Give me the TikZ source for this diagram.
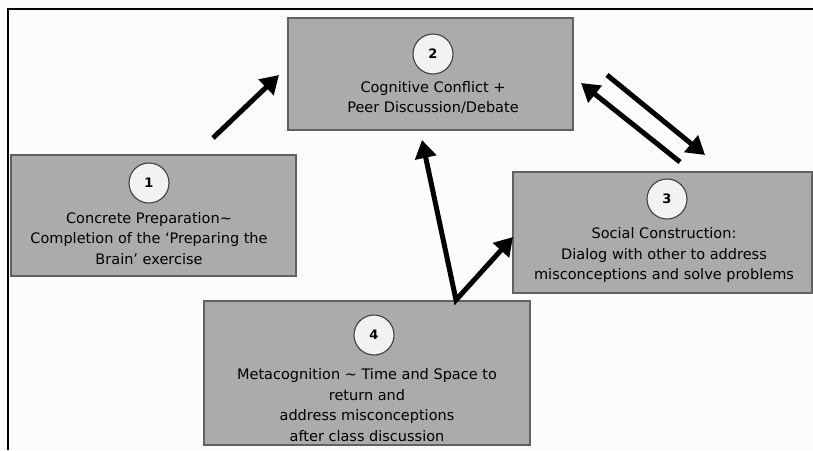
\documentclass[tikz,border=0pt]{standalone}
\usepackage{fontspec}
\setmainfont{DejaVu Sans}
\usetikzlibrary{arrows.meta}
\begin{document}
\begin{tikzpicture}[x=1pt,y=-1pt,
  stagebox/.style={draw=black!62, line width=1.3pt, fill=black!33, inner sep=0pt},
  numdisc/.style={circle, draw=black!75, line width=1.1pt, fill=black!5, minimum size=40pt, inner sep=0pt, font=\fontsize{13}{13}\selectfont\bfseries},
  stagetext/.style={align=center, inner sep=0pt, font=\fontsize{14.5}{20.5}\selectfont},
  flow/.style={line width=5pt, -{Triangle[length=18pt,width=21pt]}}
]
\useasboundingbox (0,0) rectangle (813,450);
\fill[black!1] (0,0) rectangle (813,450);
\draw[line width=2pt] (8,450) -- (8,9) -- (813,9);

% stage boxes
\node[stagebox, minimum width=285pt, minimum height=121pt] (b1) at (153.5,215.5) {};
\node[stagebox, minimum width=285pt, minimum height=112pt] (b2) at (430.5,74) {};
\node[stagebox, minimum width=299pt, minimum height=121pt] (b3) at (662.5,232.5) {};
\node[stagebox, minimum width=326pt, minimum height=144pt] (b4) at (367,373) {};

% numbered discs
\node[numdisc] (n1) at (149,183) {1};
\node[numdisc] (n2) at (433,54) {2};
\node[numdisc] (n3) at (667,199) {3};
\node[numdisc] (n4) at (374,335) {4};

% stage descriptions
\node[stagetext] (t1) at (149,238.5) {Concrete Preparation\textasciitilde\\Completion of the ‘Preparing the\\Brain’ exercise};
\node[stagetext] (t2) at (433,97.5) {Cognitive Conflict +\\Peer Discussion/Debate};
\node[stagetext] (t3) at (664,255) {Social Construction:\\Dialog with other to address\\misconceptions and solve problems};
\node[stagetext] (t4) at (367,405) {Metacognition \textasciitilde{} Time and Space to\\return and\\address misconceptions\\after class discussion};

% arrow end points
\coordinate (p1) at (213,138);
\coordinate (q2) at (279,75);
\coordinate (v4) at (456,300);
\coordinate (q4a) at (422,140);
\coordinate (q4b) at (513,237);
\coordinate (p3) at (680,162);
\coordinate (q3) at (581,83);
\coordinate (p2) at (607,75);
\coordinate (q23) at (705,155);

% transitions
\draw[flow] (p1) -- (q2);
\draw[line width=5pt, {Triangle[length=18pt,width=21pt]}-{Triangle[length=18pt,width=21pt]}] (q4a) -- (v4) -- (q4b);
\draw[flow] (p3) -- (q3);
\draw[flow] (p2) -- (q23);
\end{tikzpicture}
\end{document}
